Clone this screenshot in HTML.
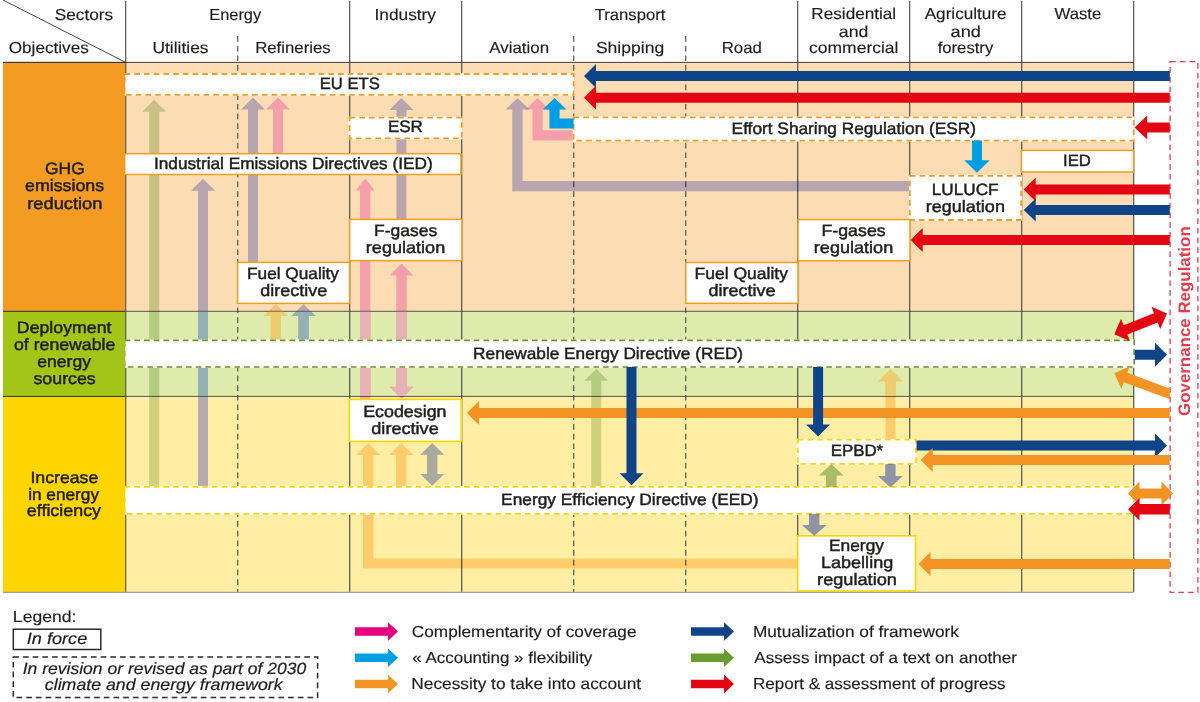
<!DOCTYPE html>
<html><head><meta charset="utf-8"><title>EU climate and energy policy framework</title>
<style>html,body{margin:0;padding:0;background:#fff;}body{width:1200px;height:702px;overflow:hidden;font-family:"Liberation Sans",sans-serif;}svg{display:block;}text{font-family:"Liberation Sans",sans-serif;fill:#1d1d1b;text-rendering:geometricPrecision;stroke:#1d1d1b;stroke-width:0.15px;}.m{stroke:#1d1d1b;stroke-width:0.45px;}.i{font-style:italic;stroke:#1d1d1b;stroke-width:0.2px;}.g{font-weight:bold;fill:#E8394D;stroke:none;}.x{mix-blend-mode:multiply;}</style>
</head><body>
<svg width="1200" height="702" viewBox="0 0 1200 702">
<rect width="1200" height="702" fill="#fff"/>
<rect x="125.70" y="62.40" width="1008.00" height="248.90" fill="#FCDDB3" />
<rect x="125.70" y="311.30" width="1008.00" height="85.10" fill="#DFEAAD" />
<rect x="125.70" y="396.40" width="1008.00" height="195.60" fill="#FFEEA4" />
<line x1="125.70" y1="1.00" x2="125.70" y2="592.00" stroke="#505050" stroke-width="1.2"/>
<line x1="349.70" y1="1.00" x2="349.70" y2="592.00" stroke="#505050" stroke-width="1.2"/>
<line x1="461.70" y1="1.00" x2="461.70" y2="592.00" stroke="#505050" stroke-width="1.2"/>
<line x1="797.70" y1="1.00" x2="797.70" y2="592.00" stroke="#505050" stroke-width="1.2"/>
<line x1="909.70" y1="1.00" x2="909.70" y2="592.00" stroke="#505050" stroke-width="1.2"/>
<line x1="1021.70" y1="1.00" x2="1021.70" y2="592.00" stroke="#505050" stroke-width="1.2"/>
<line x1="1133.70" y1="1.00" x2="1133.70" y2="592.00" stroke="#505050" stroke-width="1.2"/>
<line x1="237.70" y1="36.00" x2="237.70" y2="592.00" stroke="#5a5a5a" stroke-width="1.25" stroke-dasharray="5.7 4"/>
<line x1="573.70" y1="36.00" x2="573.70" y2="592.00" stroke="#5a5a5a" stroke-width="1.25" stroke-dasharray="5.7 4"/>
<line x1="685.70" y1="36.00" x2="685.70" y2="592.00" stroke="#5a5a5a" stroke-width="1.25" stroke-dasharray="5.7 4"/>
<line x1="3.00" y1="0.00" x2="125.70" y2="62.40" stroke="#444" stroke-width="1"/>
<line x1="3.00" y1="62.40" x2="1133.70" y2="62.40" stroke="#2a2a2a" stroke-width="0.9"/>
<line x1="3.00" y1="311.30" x2="1133.70" y2="311.30" stroke="#3a3a3a" stroke-width="0.85"/>
<line x1="3.00" y1="396.40" x2="1133.70" y2="396.40" stroke="#3a3a3a" stroke-width="0.85"/>
<line x1="3.00" y1="592.40" x2="1133.70" y2="592.40" stroke="#a0a0a0" stroke-width="1.1"/>
<polygon points="159.20,487.00 159.20,111.70 166.20,111.70 154.20,99.70 142.20,111.70 149.20,111.70 149.20,487.00" fill="#CEDFBD" class="x" />
<polygon points="208.00,487.00 208.00,190.70 215.00,190.70 203.00,178.70 191.00,190.70 198.00,190.70 198.00,487.00" fill="#B9BEFA" class="x" />
<polygon points="258.00,262.50 258.00,109.50 265.00,109.50 253.00,97.50 241.00,109.50 248.00,109.50 248.00,262.50" fill="#B9BEFA" class="x" />
<polygon points="283.00,153.70 283.00,109.50 290.00,109.50 278.00,97.50 266.00,109.50 273.00,109.50 273.00,153.70" fill="#F7B9F4" class="x" />
<polygon points="280.90,340.30 280.90,315.90 287.70,315.90 275.80,304.10 263.90,315.90 270.70,315.90 270.70,340.30" fill="#FFDBA8" class="x" />
<polygon points="308.60,340.30 308.60,315.90 315.40,315.90 303.50,304.10 291.60,315.90 298.40,315.90 298.40,340.30" fill="#B9BEFA" class="x" />
<polygon points="406.40,219.50 406.40,110.00 413.40,110.00 401.40,98.00 389.40,110.00 396.40,110.00 396.40,219.50" fill="#B9BEFA" class="x" />
<polygon points="370.40,399.40 370.40,190.50 374.70,190.50 365.20,178.50 355.70,190.50 360.00,190.50 360.00,399.40" fill="#F7B9F4" class="x" />
<polygon points="401.50,398.75 413.50,386.75 406.70,386.75 406.70,275.60 413.50,275.60 401.50,263.60 389.50,275.60 396.30,275.60 396.30,386.75 389.50,386.75" fill="#F7B9F4" class="x" />
<polygon points="373.40,487.00 373.40,455.00 380.20,455.00 368.20,443.00 356.20,455.00 363.00,455.00 363.00,487.00" fill="#FFDBA8" class="x" />
<polygon points="406.40,487.00 406.40,455.00 413.20,455.00 401.20,443.00 389.20,455.00 396.00,455.00 396.00,487.00" fill="#FFDBA8" class="x" />
<polygon points="432.20,485.80 444.20,474.00 437.40,474.00 437.40,454.80 444.20,454.80 432.20,443.00 420.20,454.80 427.00,454.80 427.00,474.00 420.20,474.00" fill="#AAB4F8" class="x" />
<polygon points="363.00,513.80 373.60,513.80 373.60,558.60 797.70,558.60 797.70,568.60 363.00,568.60" fill="#FFDBA8" class="x"/>
<polygon points="517.50,98.00 529.50,109.60 522.60,109.60 522.60,180.90 909.80,180.90 909.80,191.30 512.30,191.30 512.30,109.60 505.50,109.60" fill="#B9BEFA" class="x"/>
<polygon points="537.50,98.00 549.50,109.60 542.60,109.60 542.60,130.30 573.60,130.30 573.60,140.60 532.50,140.60 532.50,109.60 525.50,109.60" fill="#F7B9F4" class="x"/>
<polygon points="601.25,487.00 601.25,380.70 608.25,380.70 596.25,368.70 584.25,380.70 591.25,380.70 591.25,487.00" fill="#CEDFBD" class="x" />
<polygon points="895.50,439.70 895.50,381.20 902.50,381.20 890.50,369.20 878.50,381.20 885.50,381.20 885.50,439.70" fill="#FFDBA8" class="x" />
<clipPath id="gz"><rect x="125.70" y="311.80" width="1008.00" height="84.10"/></clipPath>
<g clip-path="url(#gz)">
<polygon points="208.00,487.00 208.00,190.70 215.00,190.70 203.00,178.70 191.00,190.70 198.00,190.70 198.00,487.00" fill="#94B0B4" />
<polygon points="308.60,340.30 308.60,315.90 315.40,315.90 303.50,304.10 291.60,315.90 298.40,315.90 298.40,340.30" fill="#94B0B4" />
<polygon points="370.40,399.40 370.40,190.50 374.70,190.50 365.20,178.50 355.70,190.50 360.00,190.50 360.00,399.40" fill="#E6B2B6" />
<polygon points="401.50,398.75 413.50,386.75 406.70,386.75 406.70,275.60 413.50,275.60 401.50,263.60 389.50,275.60 396.30,275.60 396.30,386.75 389.50,386.75" fill="#E6B2B6" />
<polygon points="280.90,340.30 280.90,315.90 287.70,315.90 275.80,304.10 263.90,315.90 270.70,315.90 270.70,340.30" fill="#ECCD6E" />
<polygon points="895.50,439.70 895.50,381.20 902.50,381.20 890.50,369.20 878.50,381.20 885.50,381.20 885.50,439.70" fill="#ECCD6E" />
</g>
<rect x="198.00" y="396.90" width="10.00" height="90.10" fill="#B5ABB1" />
<rect x="124.60" y="74.00" width="449.00" height="20.90" fill="#fff" stroke="#fff" stroke-width="1.8" />
<rect x="124.60" y="74.00" width="449.00" height="20.90" fill="none" stroke="#F39B22" stroke-width="1.8" stroke-dasharray="5.7 4" />
<rect x="349.60" y="117.60" width="112.00" height="20.80" fill="#fff" stroke="#fff" stroke-width="1.8" />
<rect x="349.60" y="117.60" width="112.00" height="20.80" fill="none" stroke="#F39B22" stroke-width="1.8" stroke-dasharray="5.7 4" />
<rect x="573.60" y="117.40" width="560.10" height="23.20" fill="#fff" stroke="#fff" stroke-width="1.8" />
<rect x="573.60" y="117.40" width="560.10" height="23.20" fill="none" stroke="#F39B22" stroke-width="1.8" stroke-dasharray="5.7 4" />
<rect x="124.60" y="153.70" width="336.40" height="20.80" fill="#fff" stroke="#F39B22" stroke-width="1.5" />
<rect x="1021.40" y="150.40" width="112.20" height="21.60" fill="#fff" stroke="#F39B22" stroke-width="1.5" />
<rect x="909.80" y="175.80" width="111.40" height="44.20" fill="#fff" stroke="#fff" stroke-width="1.8" />
<rect x="909.80" y="175.80" width="111.40" height="44.20" fill="none" stroke="#F39B22" stroke-width="1.8" stroke-dasharray="5.7 4" />
<rect x="349.60" y="219.40" width="112.30" height="41.20" fill="#fff" stroke="#F39B22" stroke-width="1.5" />
<rect x="798.00" y="219.60" width="112.00" height="41.10" fill="#fff" stroke="#F39B22" stroke-width="1.5" />
<rect x="237.60" y="262.40" width="112.00" height="41.00" fill="#fff" stroke="#F39B22" stroke-width="1.5" />
<rect x="685.80" y="262.50" width="112.20" height="40.80" fill="#fff" stroke="#F39B22" stroke-width="1.5" />
<rect x="124.60" y="340.30" width="1009.60" height="26.70" fill="#fff" stroke="#fff" stroke-width="1.7" />
<rect x="124.60" y="340.30" width="1009.60" height="26.70" fill="none" stroke="#68942A" stroke-width="1.7" stroke-dasharray="5.7 4" />
<rect x="349.30" y="399.40" width="112.00" height="42.00" fill="#fff" stroke="#FFD500" stroke-width="1.6" />
<rect x="797.70" y="439.70" width="118.30" height="24.20" fill="#fff" stroke="#fff" stroke-width="1.8" />
<rect x="797.70" y="439.70" width="118.30" height="24.20" fill="none" stroke="#FFD500" stroke-width="1.8" stroke-dasharray="5.7 4" />
<rect x="124.60" y="486.80" width="1009.10" height="27.00" fill="#fff" stroke="#fff" stroke-width="1.8" />
<rect x="124.60" y="486.80" width="1009.10" height="27.00" fill="none" stroke="#FFD500" stroke-width="1.8" stroke-dasharray="5.7 4" />
<rect x="797.70" y="535.80" width="117.90" height="55.20" fill="#fff" stroke="#FFD500" stroke-width="1.6" />
<rect x="1170.10" y="61.70" width="27.80" height="530.60" fill="#fff" stroke="#fff" stroke-width="1.3" />
<rect x="1170.10" y="61.70" width="27.80" height="530.60" fill="none" stroke="#E63C50" stroke-width="1.3" stroke-dasharray="5.7 4" />
<rect x="3.00" y="62.40" width="122.10" height="248.90" fill="#F39B22" />
<rect x="3.00" y="311.30" width="122.10" height="85.10" fill="#A3C518" />
<rect x="3.00" y="396.40" width="122.10" height="195.60" fill="#FFD500" />
<line x1="3.00" y1="62.40" x2="125.10" y2="62.40" stroke="#333" stroke-width="1"/>
<line x1="3.00" y1="311.30" x2="125.10" y2="311.30" stroke="#333" stroke-width="1"/>
<line x1="3.00" y1="396.40" x2="125.10" y2="396.40" stroke="#333" stroke-width="1"/>
<line x1="3.00" y1="592.40" x2="125.10" y2="592.40" stroke="#a0a0a0" stroke-width="1.1"/>
<polygon points="554.60,98.00 566.60,109.50 559.60,109.50 559.60,118.40 573.60,118.40 573.60,128.60 549.40,128.60 549.40,109.50 542.60,109.50" fill="#009FE3"/>
<polygon points="972.00,140.60 972.00,160.20 964.25,160.20 977.00,172.70 989.75,160.20 982.00,160.20 982.00,140.60" fill="#009FE3" />
<polygon points="885.20,464.00 885.20,476.00 878.00,476.00 890.40,487.60 902.80,476.00 895.60,476.00 895.60,464.00" fill="#8FA0FF" class="x" />
<polygon points="809.00,513.80 809.00,525.00 801.80,525.00 814.20,535.80 826.60,525.00 819.40,525.00 819.40,513.80" fill="#8FA0FF" class="x" />
<polygon points="836.70,487.00 836.70,475.50 843.65,475.50 831.30,464.00 818.95,475.50 825.90,475.50 825.90,487.00" fill="#A9C999" class="x" />
<polygon points="1169.80,71.00 596.00,71.00 596.00,64.00 584.00,76.00 596.00,88.00 596.00,81.00 1169.80,81.00" fill="#0F4588" />
<polygon points="1169.80,92.70 596.00,92.70 596.00,85.70 584.00,97.70 596.00,109.70 596.00,102.70 1169.80,102.70" fill="#E30613" />
<polygon points="1169.80,122.40 1147.20,122.40 1147.20,115.40 1134.60,127.40 1147.20,139.40 1147.20,132.40 1169.80,132.40" fill="#E30613" />
<polygon points="1169.80,184.50 1035.70,184.50 1035.70,177.50 1023.70,189.50 1035.70,201.50 1035.70,194.50 1169.80,194.50" fill="#E30613" />
<polygon points="1169.80,205.00 1035.70,205.00 1035.70,198.50 1023.70,210.00 1035.70,221.50 1035.70,215.00 1169.80,215.00" fill="#0F4588" />
<polygon points="1169.80,235.00 922.70,235.00 922.70,228.00 910.70,240.00 922.70,252.00 922.70,245.00 1169.80,245.00" fill="#E30613" />
<polygon points="1169.80,408.00 479.00,408.00 479.00,401.00 467.00,413.00 479.00,425.00 479.00,418.00 1169.80,418.00" fill="#F39323" />
<polygon points="626.50,367.00 626.50,473.30 619.50,473.30 631.50,485.30 643.50,473.30 636.50,473.30 636.50,367.00" fill="#0F4588" />
<polygon points="813.10,367.00 813.10,424.40 806.10,424.40 818.10,436.40 830.10,424.40 823.10,424.40 823.10,367.00" fill="#0F4588" />
<polygon points="916.60,450.50 1155.00,450.50 1155.00,457.50 1167.00,445.50 1155.00,433.50 1155.00,440.50 916.60,440.50" fill="#0F4588" />
<polygon points="1169.80,455.00 932.70,455.00 932.70,448.00 920.70,460.00 932.70,472.00 932.70,465.00 1169.80,465.00" fill="#F39323" />
<polygon points="1128.00,493.50 1139.50,505.50 1139.50,498.50 1161.50,498.50 1161.50,505.50 1173.00,493.50 1161.50,481.50 1161.50,488.50 1139.50,488.50 1139.50,481.50" fill="#F39323" />
<polygon points="1169.80,504.00 1139.50,504.00 1139.50,498.05 1128.00,509.30 1139.50,520.55 1139.50,514.60 1169.80,514.60" fill="#E30613" />
<polygon points="1169.80,559.00 930.50,559.00 930.50,551.75 918.50,564.00 930.50,576.25 930.50,569.00 1169.80,569.00" fill="#F39323" />
<polygon points="1114.30,334.30 1129.87,341.06 1127.30,334.55 1157.67,322.56 1160.24,329.07 1167.00,313.50 1151.43,306.74 1154.00,313.25 1123.63,325.24 1121.06,318.73" fill="#E30613" />
<polygon points="1134.80,359.80 1155.00,359.80 1155.00,366.80 1167.00,354.80 1155.00,342.80 1155.00,349.80 1134.80,349.80" fill="#0F4588" />
<clipPath id="cg"><rect x="1100" y="360" width="69.8" height="50"/></clipPath>
<polygon points="1178.74,391.91 1127.29,372.79 1129.73,366.23 1114.30,373.30 1121.37,388.73 1123.81,382.17 1175.26,401.29" fill="#F39323" clip-path="url(#cg)"/>
<text x="54.73" y="19.50" font-size="15.9" textLength="58.38" lengthAdjust="spacingAndGlyphs">Sectors</text>
<text x="8.73" y="53.30" font-size="15.9" textLength="80.10" lengthAdjust="spacingAndGlyphs">Objectives</text>
<text x="209.19" y="19.50" font-size="15.9" textLength="52.04" lengthAdjust="spacingAndGlyphs">Energy</text>
<text x="152.44" y="53.30" font-size="15.9" textLength="56.13" lengthAdjust="spacingAndGlyphs">Utilities</text>
<text x="255.16" y="53.30" font-size="15.9" textLength="75.57" lengthAdjust="spacingAndGlyphs">Refineries</text>
<text x="374.44" y="19.50" font-size="15.9" textLength="61.60" lengthAdjust="spacingAndGlyphs">Industry</text>
<text x="594.67" y="19.50" font-size="15.9" textLength="70.76" lengthAdjust="spacingAndGlyphs">Transport</text>
<text x="489.30" y="53.30" font-size="15.9" textLength="59.79" lengthAdjust="spacingAndGlyphs">Aviation</text>
<text x="595.91" y="53.30" font-size="15.9" textLength="68.27" lengthAdjust="spacingAndGlyphs">Shipping</text>
<text x="721.65" y="53.30" font-size="15.9" textLength="40.25" lengthAdjust="spacingAndGlyphs">Road</text>
<text x="811.38" y="19.30" font-size="15.9" textLength="84.78" lengthAdjust="spacingAndGlyphs">Residential</text>
<text x="838.89" y="36.50" font-size="15.9" textLength="29.63" lengthAdjust="spacingAndGlyphs">and</text>
<text x="809.10" y="53.40" font-size="15.9" textLength="89.37" lengthAdjust="spacingAndGlyphs">commercial</text>
<text x="924.70" y="19.30" font-size="15.9" textLength="81.87" lengthAdjust="spacingAndGlyphs">Agriculture</text>
<text x="950.57" y="36.50" font-size="15.9" textLength="30.27" lengthAdjust="spacingAndGlyphs">and</text>
<text x="937.65" y="53.40" font-size="15.9" textLength="55.63" lengthAdjust="spacingAndGlyphs">forestry</text>
<text x="1054.42" y="19.30" font-size="15.9" textLength="46.97" lengthAdjust="spacingAndGlyphs">Waste</text>
<text x="45.13" y="174.40" font-size="16.5" textLength="39.53" lengthAdjust="spacingAndGlyphs" class="m">GHG</text>
<text x="24.99" y="191.40" font-size="16.5" textLength="79.15" lengthAdjust="spacingAndGlyphs" class="m">emissions</text>
<text x="27.21" y="208.50" font-size="16.5" textLength="75.26" lengthAdjust="spacingAndGlyphs" class="m">reduction</text>
<text x="16.88" y="333.20" font-size="16.5" textLength="94.53" lengthAdjust="spacingAndGlyphs" class="m">Deployment</text>
<text x="13.99" y="349.90" font-size="16.5" textLength="101.33" lengthAdjust="spacingAndGlyphs" class="m">of renewable</text>
<text x="37.30" y="366.60" font-size="16.5" textLength="53.66" lengthAdjust="spacingAndGlyphs" class="m">energy</text>
<text x="33.47" y="383.60" font-size="16.5" textLength="62.28" lengthAdjust="spacingAndGlyphs" class="m">sources</text>
<text x="30.41" y="482.50" font-size="16.5" textLength="67.90" lengthAdjust="spacingAndGlyphs" class="m">Increase</text>
<text x="28.18" y="499.50" font-size="16.5" textLength="70.90" lengthAdjust="spacingAndGlyphs" class="m">in energy</text>
<text x="26.89" y="516.30" font-size="16.5" textLength="74.12" lengthAdjust="spacingAndGlyphs" class="m">efficiency</text>
<text x="319.67" y="89.10" font-size="16.5" textLength="60.11" lengthAdjust="spacingAndGlyphs" class="m">EU ETS</text>
<text x="388.05" y="132.00" font-size="16.5" textLength="34.73" lengthAdjust="spacingAndGlyphs" class="m">ESR</text>
<text x="153.95" y="168.70" font-size="16.5" textLength="278.70" lengthAdjust="spacingAndGlyphs" class="m">Industrial Emissions Directives (IED)</text>
<text x="731.62" y="134.00" font-size="16.5" textLength="244.43" lengthAdjust="spacingAndGlyphs" class="m">Effort Sharing Regulation (ESR)</text>
<text x="1063.00" y="166.00" font-size="16.5" textLength="27.78" lengthAdjust="spacingAndGlyphs" class="m">IED</text>
<text x="931.83" y="194.80" font-size="16.5" textLength="66.76" lengthAdjust="spacingAndGlyphs" class="m">LULUCF</text>
<text x="925.83" y="211.70" font-size="16.5" textLength="79.08" lengthAdjust="spacingAndGlyphs" class="m">regulation</text>
<text x="374.00" y="236.00" font-size="16.5" textLength="63.26" lengthAdjust="spacingAndGlyphs" class="m">F-gases</text>
<text x="365.83" y="253.00" font-size="16.5" textLength="79.39" lengthAdjust="spacingAndGlyphs" class="m">regulation</text>
<text x="821.48" y="236.00" font-size="16.5" textLength="64.19" lengthAdjust="spacingAndGlyphs" class="m">F-gases</text>
<text x="813.83" y="253.00" font-size="16.5" textLength="79.39" lengthAdjust="spacingAndGlyphs" class="m">regulation</text>
<text x="247.02" y="279.00" font-size="16.5" textLength="91.99" lengthAdjust="spacingAndGlyphs" class="m">Fuel Quality</text>
<text x="260.28" y="295.60" font-size="16.5" textLength="66.90" lengthAdjust="spacingAndGlyphs" class="m">directive</text>
<text x="694.60" y="279.00" font-size="16.5" textLength="93.31" lengthAdjust="spacingAndGlyphs" class="m">Fuel Quality</text>
<text x="708.48" y="295.60" font-size="16.5" textLength="67.11" lengthAdjust="spacingAndGlyphs" class="m">directive</text>
<text x="473.12" y="358.80" font-size="16.5" textLength="269.96" lengthAdjust="spacingAndGlyphs" class="m">Renewable Energy Directive (RED)</text>
<text x="363.17" y="417.40" font-size="16.5" textLength="83.39" lengthAdjust="spacingAndGlyphs" class="m">Ecodesign</text>
<text x="371.27" y="434.00" font-size="16.5" textLength="67.52" lengthAdjust="spacingAndGlyphs" class="m">directive</text>
<text x="830.65" y="456.20" font-size="16.5" textLength="52.56" lengthAdjust="spacingAndGlyphs" class="m">EPBD*</text>
<text x="501.12" y="505.00" font-size="16.5" textLength="257.52" lengthAdjust="spacingAndGlyphs" class="m">Energy Efficiency Directive (EED)</text>
<text x="829.01" y="551.30" font-size="16.5" textLength="54.96" lengthAdjust="spacingAndGlyphs" class="m">Energy</text>
<text x="820.96" y="568.20" font-size="16.5" textLength="72.28" lengthAdjust="spacingAndGlyphs" class="m">Labelling</text>
<text x="817.12" y="585.20" font-size="16.5" textLength="79.80" lengthAdjust="spacingAndGlyphs" class="m">regulation</text>
<text transform="translate(1189.6,415.98) rotate(-90)" font-size="16.6" textLength="189.69" lengthAdjust="spacingAndGlyphs" class="g">Governance Regulation</text>
<text x="12.89" y="621.50" font-size="15.9" textLength="63.58" lengthAdjust="spacingAndGlyphs">Legend:</text>
<rect x="13.30" y="629.20" width="87.50" height="20.30" fill="#fff" stroke="#2a2a2a" stroke-width="1.5" />
<text x="26.77" y="644.00" font-size="16.3" textLength="60.46" lengthAdjust="spacingAndGlyphs" class="i">In force</text>
<rect x="13.30" y="657.00" width="304.30" height="40.50" fill="#fff" stroke="#2a2a2a" stroke-width="1.5" stroke-dasharray="5.7 4" />
<text x="22.70" y="673.70" font-size="16.3" textLength="283.50" lengthAdjust="spacingAndGlyphs" class="i">In revision or revised as part of 2030</text>
<text x="44.87" y="690.20" font-size="16.3" textLength="237.72" lengthAdjust="spacingAndGlyphs" class="i">climate and energy framework</text>
<polygon points="355.00,635.75 388.00,635.75 388.00,640.75 398.00,631.50 388.00,622.25 388.00,627.25 355.00,627.25" fill="#E6007E" />
<text x="411.84" y="636.60" font-size="15.9" textLength="224.67" lengthAdjust="spacingAndGlyphs">Complementarity of coverage</text>
<polygon points="355.00,661.95 388.00,661.95 388.00,666.95 398.00,657.70 388.00,648.45 388.00,653.45 355.00,653.45" fill="#009FE3" />
<text x="412.22" y="662.80" font-size="15.9" textLength="180.12" lengthAdjust="spacingAndGlyphs">« Accounting » flexibility</text>
<polygon points="355.00,688.25 388.00,688.25 388.00,693.25 398.00,684.00 388.00,674.75 388.00,679.75 355.00,679.75" fill="#F39323" />
<text x="411.32" y="689.10" font-size="15.9" textLength="229.85" lengthAdjust="spacingAndGlyphs">Necessity to take into account</text>
<polygon points="691.00,635.75 724.00,635.75 724.00,640.75 734.00,631.50 724.00,622.25 724.00,627.25 691.00,627.25" fill="#0F4588" />
<text x="752.92" y="636.60" font-size="15.9" textLength="206.07" lengthAdjust="spacingAndGlyphs">Mutualization of framework</text>
<polygon points="691.00,661.95 724.00,661.95 724.00,666.95 734.00,657.70 724.00,648.45 724.00,653.45 691.00,653.45" fill="#6B9B33" />
<text x="754.30" y="662.80" font-size="15.9" textLength="262.68" lengthAdjust="spacingAndGlyphs">Assess impact of a text on another</text>
<polygon points="691.00,688.25 724.00,688.25 724.00,693.25 734.00,684.00 724.00,674.75 724.00,679.75 691.00,679.75" fill="#E30613" />
<text x="752.94" y="689.10" font-size="15.9" textLength="252.66" lengthAdjust="spacingAndGlyphs">Report &amp; assessment of progress</text>
</svg></body></html>
